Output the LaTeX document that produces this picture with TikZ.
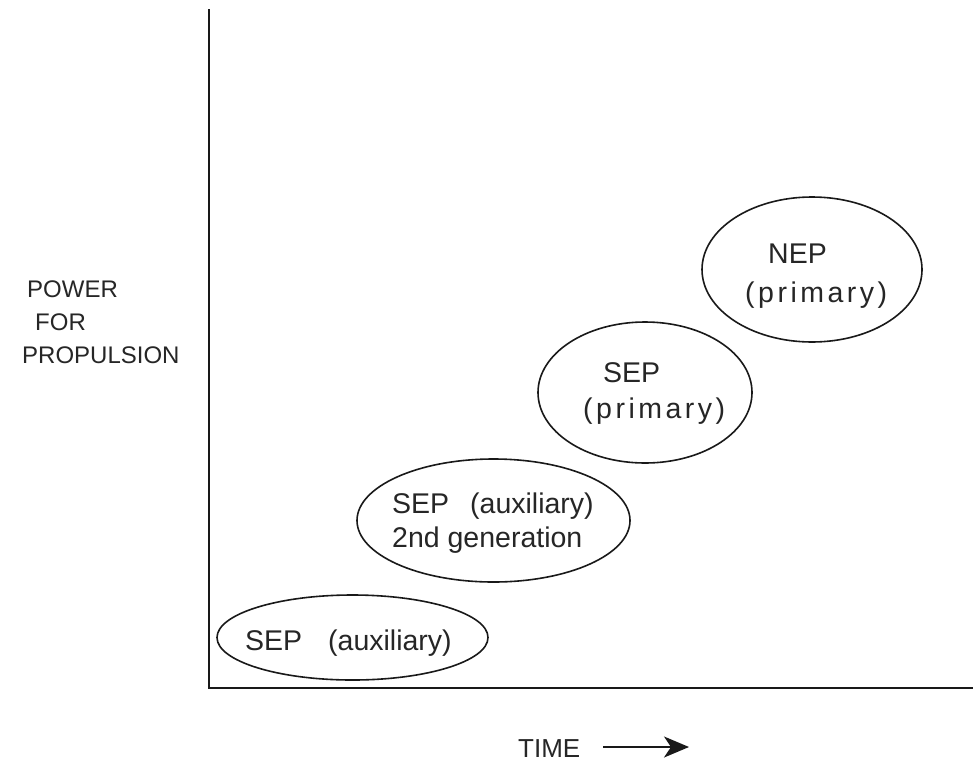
\documentclass[tikz,border=0pt]{standalone}
\usepackage{fontspec}
\setmainfont{Liberation Sans}
\usetikzlibrary{shapes.geometric,arrows.meta}
\newcommand{\ls}{\kern3.5pt}
\tikzset{
  ell/.style={draw=black!90, line width=1.6pt, ellipse, inner sep=0pt},
  etxt/.style={anchor=base west, inner sep=0pt, font=\fontsize{28.5}{34}\selectfont, text=black!85},
  ltxt/.style={anchor=base west, inner sep=0pt, font=\fontsize{24}{29}\selectfont, text=black!85},
  ttxt/.style={anchor=base west, inner sep=0pt, font=\fontsize{26}{31}\selectfont, text=black!85},
  axis/.style={line width=2.2pt, draw=black!90},
}
\begin{document}
\begin{tikzpicture}[x=1pt,y=-1pt]
\useasboundingbox[fill=white] (0,0) rectangle (973,771);
% axes
\coordinate (ytop) at (209,9);
\coordinate (orig) at (209,688);
\coordinate (xend) at (973,688);
\draw[axis] (ytop) -- (orig) -- (xend);
% ellipses
\node[ell, minimum width=271pt, minimum height=85pt] (e1) at (352.5,637.5) {};
\node[ell, minimum width=273pt, minimum height=123pt] (e2) at (493.5,520.5) {};
\node[ell, minimum width=214pt, minimum height=141pt] (e3) at (645,392.5) {};
\node[ell, minimum width=220pt, minimum height=145pt] (e4) at (812,269.5) {};
% ellipse texts
\node[etxt] (t1a) at (245,650) {SEP};
\node[etxt] (t1b) at (328,650) {(auxiliary)};
\node[etxt] (t2a) at (392,513) {SEP};
\node[etxt] (t2b) at (470,513) {(auxiliary)};
\node[etxt] (t2c) at (392,547) {2nd generation};
\node[etxt] (t3a) at (603,382) {SEP};
\node[etxt] (t3b) at (583,418) {(\ls p\ls r\ls i\ls m\ls a\ls r\ls y\ls )};
\node[etxt] (t4a) at (768,263) {NEP};
\node[etxt] (t4b) at (745,302) {(\ls p\ls r\ls i\ls m\ls a\ls r\ls y\ls )};
% axis labels
\node[ltxt] (p1) at (27,297) {POWER};
\node[ltxt] (p2) at (35,330) {FOR};
\node[ltxt] (p3) at (22,363) {PROPULSION};
\node[ttxt] (tm) at (518,757) {TIME};
\coordinate (aS) at (603,747);
\coordinate (aE) at (689,747);
\draw[line width=2.2pt, draw=black!90, -{Stealth[length=25pt,width=21pt,inset=7pt]}] (aS) -- (aE);
\end{tikzpicture}
\end{document}
